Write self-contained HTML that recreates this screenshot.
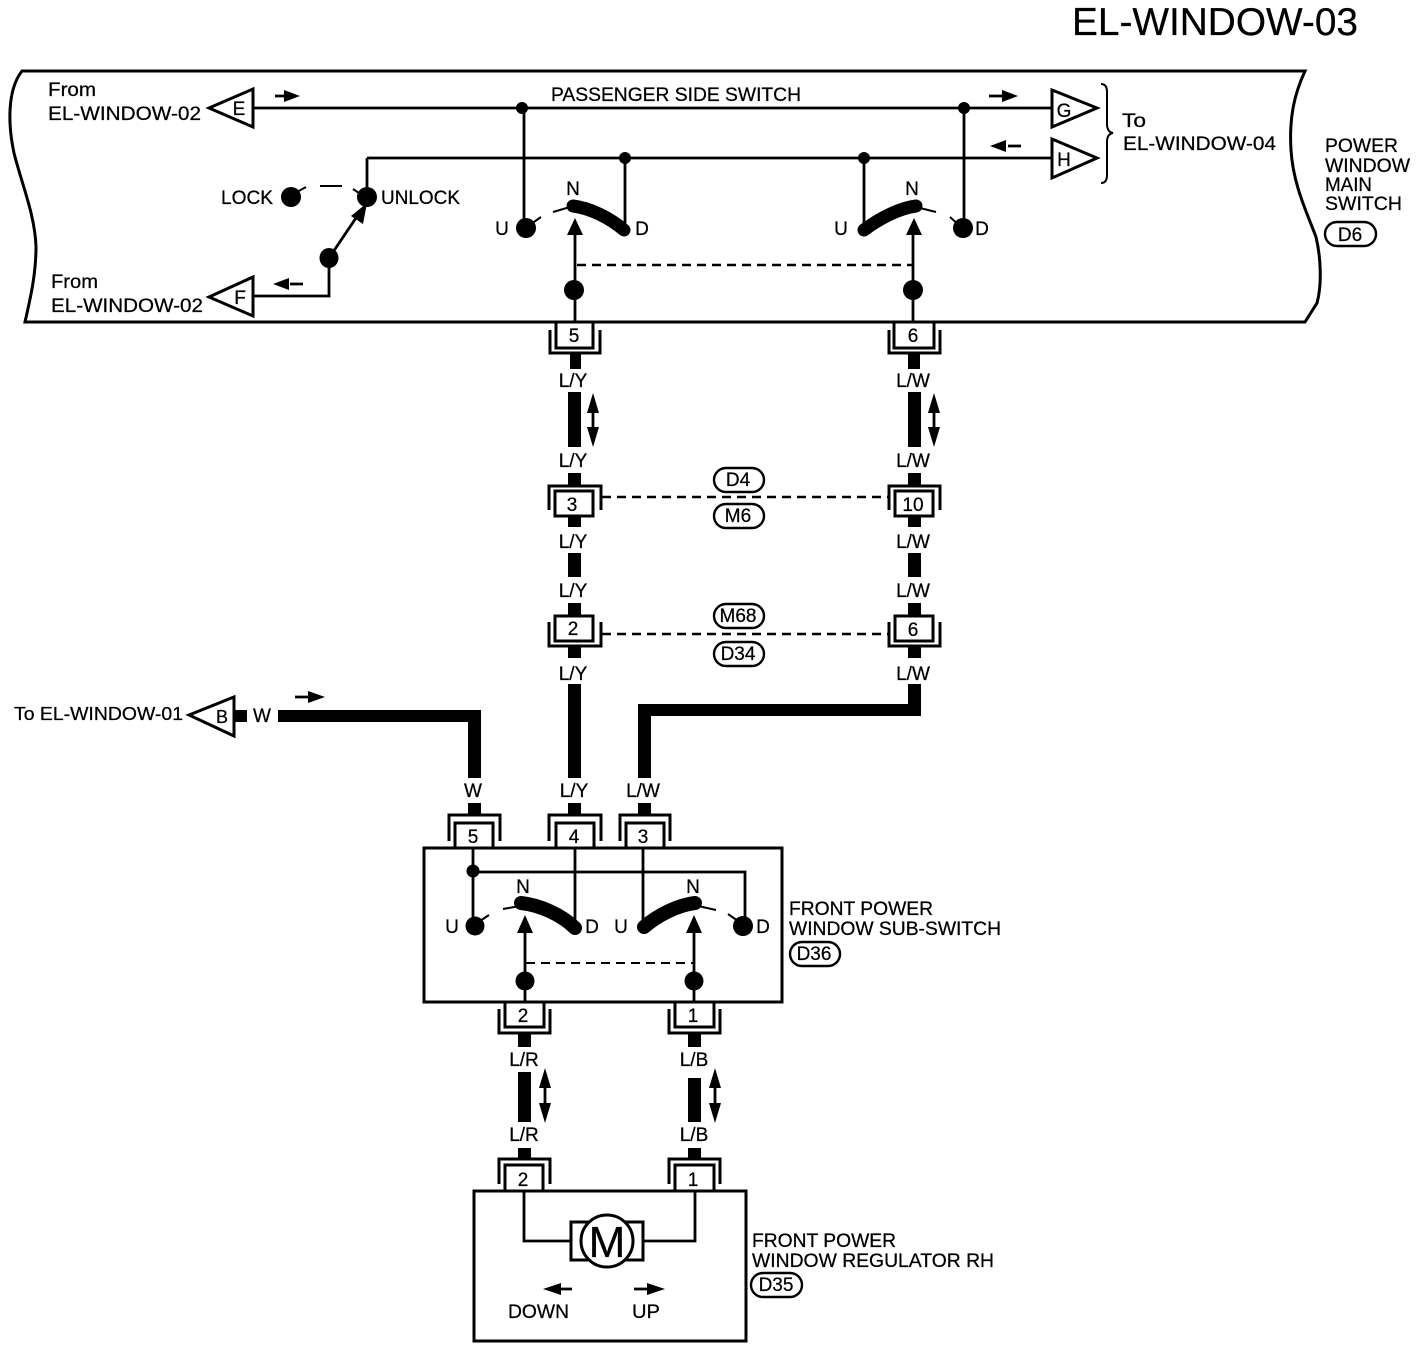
<!DOCTYPE html>
<html><head><meta charset="utf-8"><title>EL-WINDOW-03</title>
<style>
html,body{margin:0;padding:0;background:#fff}
svg{display:block}
text{font-family:"Liberation Sans",sans-serif;font-size:19px;fill:#000;stroke:#000;stroke-width:.25}
.m{text-anchor:middle}
.l{fill:none;stroke:#000;stroke-width:2.8}
.o{fill:none;stroke:#000;stroke-width:3}
.b{fill:#fff;stroke:#000;stroke-width:3}
.t{fill:#fff;stroke:#000;stroke-width:3;stroke-linejoin:miter}
.d{fill:none;stroke:#000;stroke-width:2.6;stroke-dasharray:9 6}
.a{fill:none;stroke:#000;stroke-width:13;stroke-linecap:round}
.p{fill:#fff;stroke:#000;stroke-width:2.4}
</style></head><body>
<svg xmlns="http://www.w3.org/2000/svg" width="1424" height="1348" viewBox="0 0 1424 1348">
<rect width="1424" height="1348" fill="#fff"/>
<text x="1072" y="35" style="font-size:39px" textLength="286" lengthAdjust="spacingAndGlyphs">EL-WINDOW-03</text>

<!-- main switch box -->
<path class="o" d="M22 71 H1305 C1294 95 1289 118 1291 150 C1293 185 1308 215 1316 237 C1321 258 1322 285 1317 303 L1305 322 H25 C30 300 36 275 36 247 C35 215 22 185 14 153 C8 125 7 90 22 71 Z"/>

<text x="48" y="96" textLength="48" lengthAdjust="spacingAndGlyphs">From</text>
<text x="48" y="120" textLength="153" lengthAdjust="spacingAndGlyphs">EL-WINDOW-02</text>
<text x="51" y="288" textLength="47" lengthAdjust="spacingAndGlyphs">From</text>
<text x="51" y="312" textLength="152" lengthAdjust="spacingAndGlyphs">EL-WINDOW-02</text>
<text x="551" y="101" textLength="250" lengthAdjust="spacingAndGlyphs">PASSENGER SIDE SWITCH</text>
<text x="1122" y="127" textLength="24" lengthAdjust="spacingAndGlyphs">To</text>
<text x="1123" y="150" textLength="153" lengthAdjust="spacingAndGlyphs">EL-WINDOW-04</text>
<text x="1325" y="152" textLength="73" lengthAdjust="spacingAndGlyphs">POWER</text>
<text x="1325" y="172" textLength="85" lengthAdjust="spacingAndGlyphs">WINDOW</text>
<text x="1325" y="191" textLength="47" lengthAdjust="spacingAndGlyphs">MAIN</text>
<text x="1325" y="210" textLength="77" lengthAdjust="spacingAndGlyphs">SWITCH</text>
<rect class="p" x="1325" y="222" width="51" height="24" rx="12"/>
<text class="m" x="1350" y="241">D6</text>

<!-- triangles -->
<polygon class="t" points="209,108 253,89 253,127"/><text class="m" x="239" y="115">E</text>
<polygon class="t" points="209,297 253,277 253,316"/><text class="m" x="240" y="304">F</text>
<polygon class="t" points="1052,90 1097,108 1052,127"/><text class="m" x="1064" y="117">G</text>
<polygon class="t" points="1052,139 1097,158 1052,178"/><text class="m" x="1064" y="166">H</text>
<path class="o" style="stroke-width:2" d="M1101 84 Q1107 84 1107 92 V124 Q1107 132 1113 133 Q1107 134 1107 142 V175 Q1107 183 1101 183"/>

<!-- top wiring -->
<path class="l" d="M253 108 H1052 M367 158 H1052 M367 158 V197 M524 108 V228 M625 158 V228 M864 158 V228 M964 108 V228"/>
<circle cx="522" cy="108" r="6"/><circle cx="964" cy="108" r="6"/><circle cx="625" cy="158" r="6"/><circle cx="864" cy="158" r="6"/>
<path class="l" d="M253 296 H329 V258"/>
<path class="l" d="M329 258 L360 212"/>
<polygon points="367,203 363,224 351,216"/>
<ellipse cx="329" cy="258" rx="9.5" ry="10"/>
<ellipse cx="291" cy="197" rx="10" ry="10"/><ellipse cx="367" cy="197" rx="10" ry="10"/>
<path class="l" style="stroke-width:2" d="M297 192 L306 187 M320 186 H342 M353 189 L362 195"/>
<text x="221" y="204" textLength="52" lengthAdjust="spacingAndGlyphs">LOCK</text>
<text x="381" y="204" textLength="79" lengthAdjust="spacingAndGlyphs">UNLOCK</text>

<!-- left switch top -->
<ellipse cx="526" cy="228" rx="10" ry="10"/>
<path class="l" style="stroke-width:2" d="M531 224 L541 217 M553 212 L570 207 M916 207 L936 212 M950 217 L960 226"/>
<path class="a" d="M573 206 C590 208 610 218 624 230"/>
<text class="m" x="573" y="195">N</text><text class="m" x="502" y="235">U</text><text class="m" x="642" y="235">D</text>
<path class="l" d="M575 322 V235"/><polygon points="575,218 567,235 583,235"/>
<ellipse cx="574" cy="290" rx="10" ry="10"/>
<!-- right switch top -->
<ellipse cx="963" cy="228" rx="10" ry="10"/>
<path class="a" d="M864 230 C880 218 900 208 916 206"/>
<text class="m" x="912" y="195">N</text><text class="m" x="841" y="235">U</text><text class="m" x="982" y="235">D</text>
<path class="l" d="M913 322 V235"/><polygon points="914,218 906,235 922,235"/>
<ellipse cx="913" cy="290" rx="10" ry="10"/>
<path class="d" d="M577 265 H912"/>

<!-- connectors 5 and 6 -->
<path class="o" d="M550 330 V353 H600 V330"/><rect class="b" x="556" y="322" width="37" height="26"/><text class="m" x="574" y="342">5</text>
<path class="o" d="M889 330 V353 H940 V330"/><rect class="b" x="894" y="322" width="40" height="26"/><text class="m" x="913" y="342">6</text>

<!-- wires -->
<g>
<rect x="570" y="354" width="11" height="15"/><rect x="908" y="354" width="12" height="15"/>
<rect x="568" y="392" width="13" height="55"/><rect x="908" y="392" width="13" height="55"/>
<rect x="568" y="473" width="13" height="12"/><rect x="908" y="473" width="13" height="12"/>
<rect x="568" y="516" width="13" height="11"/><rect x="908" y="516" width="13" height="11"/>
<rect x="568" y="553" width="13" height="24"/><rect x="908" y="553" width="13" height="24"/>
<rect x="568" y="603" width="13" height="12"/><rect x="908" y="603" width="13" height="12"/>
<rect x="568" y="647" width="13" height="11"/><rect x="908" y="647" width="13" height="11"/>
<rect x="568" y="684" width="13" height="94"/>
<rect x="908" y="684" width="13" height="32"/><rect x="638" y="704" width="283" height="12"/><rect x="638" y="704" width="13" height="74"/>
<rect x="278" y="710" width="203" height="12"/><rect x="468" y="710" width="13" height="68"/>
<rect x="234" y="710" width="13" height="12"/>
<rect x="468" y="803" width="13" height="11"/><rect x="568" y="803" width="13" height="11"/><rect x="638" y="803" width="13" height="11"/>
<rect x="518" y="1033" width="13" height="14"/><rect x="688" y="1033" width="13" height="14"/>
<rect x="518" y="1072" width="13" height="50"/><rect x="688" y="1078" width="13" height="44"/>
<rect x="518" y="1148" width="13" height="11"/><rect x="688" y="1148" width="13" height="11"/>
</g>

<!-- wire labels -->
<text class="m" x="573" y="387">L/Y</text><text class="m" x="913" y="387">L/W</text>
<text class="m" x="573" y="467">L/Y</text><text class="m" x="913" y="467">L/W</text>
<text class="m" x="573" y="548">L/Y</text><text class="m" x="913" y="548">L/W</text>
<text class="m" x="573" y="597">L/Y</text><text class="m" x="913" y="597">L/W</text>
<text class="m" x="573" y="680">L/Y</text><text class="m" x="913" y="680">L/W</text>
<text class="m" x="473" y="797">W</text><text class="m" x="574" y="797">L/Y</text><text class="m" x="643" y="797">L/W</text>
<text class="m" x="524" y="1066">L/R</text><text class="m" x="694" y="1066">L/B</text>
<text class="m" x="524" y="1141">L/R</text><text class="m" x="694" y="1141">L/B</text>
<text class="m" x="262" y="722">W</text>

<!-- double arrows -->
<path class="l" d="M593 405 V435 M934 405 V435 M545 1085 V1105 M715 1085 V1105"/>
<polygon points="593,393 587,413 599,413"/><polygon points="593,447 587,427 599,427"/>
<polygon points="934,393 928,413 940,413"/><polygon points="934,447 928,427 940,427"/>
<polygon points="545,1068 539,1088 551,1088"/><polygon points="545,1123 539,1103 551,1103"/>
<polygon points="715,1068 709,1088 721,1088"/><polygon points="715,1123 709,1103 721,1103"/>

<!-- connectors 3 / 10 -->
<path class="o" d="M549 510 V486 H601 V510"/><rect class="b" x="555" y="491" width="38" height="25"/><text class="m" x="572" y="511">3</text>
<path class="o" d="M889 510 V486 H940 V510"/><rect class="b" x="895" y="491" width="38" height="25"/><text class="m" x="913" y="511">10</text>
<path class="d" d="M602 497 H888"/>
<rect class="p" x="714" y="468" width="50" height="24" rx="12"/><text class="m" x="738" y="486">D4</text>
<rect class="p" x="714" y="504" width="50" height="24" rx="12"/><text class="m" x="738" y="522">M6</text>

<!-- connectors 2 / 6 -->
<path class="o" d="M549 622 V646 H601 V622"/><rect class="b" x="555" y="616" width="38" height="25"/><text class="m" x="573" y="635">2</text>
<path class="o" d="M889 622 V646 H940 V622"/><rect class="b" x="895" y="616" width="38" height="25"/><text class="m" x="913" y="636">6</text>
<path class="d" d="M602 634 H888"/>
<rect class="p" x="714" y="604" width="50" height="24" rx="12"/><text class="m" x="738" y="622">M68</text>
<rect class="p" x="714" y="642" width="50" height="24" rx="12"/><text class="m" x="738" y="660">D34</text>

<!-- To EL-WINDOW-01 -->
<text x="14" y="720" textLength="169" lengthAdjust="spacingAndGlyphs" style="font-size:18px">To EL-WINDOW-01</text>
<polygon class="t" points="189,715 234,697 234,736"/><text class="m" x="222" y="723" style="font-size:18px">B</text>

<!-- direction arrows -->
<path class="l" d="M275 96 H290 M989 96 H1008 M1008 146 H1021 M290 284 H303 M295 697 H308"/>
<polygon points="300,96 284,90 284,102"/>
<polygon points="1018,96 1002,90 1002,102"/>
<polygon points="990,146 1006,140 1006,152"/>
<polygon points="273,284 289,278 289,290"/>
<polygon points="325,697 308,691 308,703"/>

<!-- sub-switch box -->
<rect class="o" x="424" y="848" width="358" height="154"/>
<path class="o" d="M449 841 V815 H500 V841"/><rect class="b" x="455" y="823" width="38" height="25"/><text class="m" x="473" y="843">5</text>
<path class="o" d="M549 841 V815 H601 V841"/><rect class="b" x="556" y="823" width="38" height="25"/><text class="m" x="574" y="843">4</text>
<path class="o" d="M620 841 V815 H670 V841"/><rect class="b" x="626" y="823" width="38" height="25"/><text class="m" x="643" y="843">3</text>

<path class="l" d="M473 848 V926 M473 872 H745 V926 M575 848 V928 M643 848 V926"/>
<circle cx="473" cy="871" r="6.5"/>
<circle cx="475" cy="926" r="9.5"/><circle cx="743" cy="926" r="10"/>
<path class="l" style="stroke-width:2" d="M480 921 L489 915 M503 909 L520 906 M698 906 L716 910 M728 914 L738 921"/>
<path class="a" style="stroke-width:14" d="M521 903 C540 905 562 915 575 928"/>
<path class="a" style="stroke-width:14" d="M644 927 C658 915 678 905 695 903"/>
<text class="m" x="523" y="893">N</text><text class="m" x="693" y="893">N</text>
<text class="m" x="452" y="933">U</text><text class="m" x="592" y="933">D</text><text class="m" x="621" y="933">U</text><text class="m" x="763" y="933">D</text>
<path class="l" d="M525 1002 V932 M694 1002 V932"/>
<polygon points="525,915 517,933 533,933"/><polygon points="694,915 686,933 702,933"/>
<circle cx="525" cy="981" r="9.5"/><circle cx="694" cy="981" r="9.5"/>
<path class="d" style="stroke-width:2" d="M526 963 H694"/>

<text x="789" y="915" textLength="144" lengthAdjust="spacingAndGlyphs">FRONT POWER</text>
<text x="789" y="935" textLength="212" lengthAdjust="spacingAndGlyphs">WINDOW SUB-SWITCH</text>
<rect class="p" x="790" y="942" width="50" height="24" rx="12"/><text class="m" x="814" y="960">D36</text>

<!-- connectors below sub-switch -->
<path class="o" d="M499 1009 V1033 H550 V1009"/><rect class="b" x="505" y="1002" width="39" height="25"/><text class="m" x="523" y="1022">2</text>
<path class="o" d="M669 1009 V1033 H720 V1009"/><rect class="b" x="675" y="1002" width="39" height="25"/><text class="m" x="693" y="1022">1</text>

<!-- regulator box -->
<rect class="o" x="474" y="1191" width="272" height="150"/>
<path class="o" d="M499 1184 V1159 H550 V1184"/><rect class="b" x="505" y="1165" width="38" height="26"/><text class="m" x="523" y="1186">2</text>
<path class="o" d="M669 1184 V1159 H720 V1184"/><rect class="b" x="675" y="1165" width="39" height="26"/><text class="m" x="693" y="1186">1</text>
<path class="l" d="M524 1191 V1241 H571 M695 1191 V1241 H643"/>
<rect class="b" x="571" y="1222" width="72" height="38"/>
<circle cx="607" cy="1241" r="26" class="b"/>
<text class="m" x="607" y="1257" style="font-size:44px">M</text>
<path class="l" d="M560 1289 H572 M634 1289 H650"/>
<polygon points="543,1289 561,1283 561,1295"/><polygon points="665,1289 647,1283 647,1295"/>
<text x="508" y="1318" textLength="61" lengthAdjust="spacingAndGlyphs">DOWN</text>
<text x="632" y="1318" textLength="28" lengthAdjust="spacingAndGlyphs">UP</text>
<text x="752" y="1247" textLength="144" lengthAdjust="spacingAndGlyphs">FRONT POWER</text>
<text x="752" y="1267" textLength="242" lengthAdjust="spacingAndGlyphs">WINDOW REGULATOR RH</text>
<rect class="p" x="751" y="1273" width="51" height="24" rx="12"/><text class="m" x="776" y="1291">D35</text>
</svg>
</body></html>
